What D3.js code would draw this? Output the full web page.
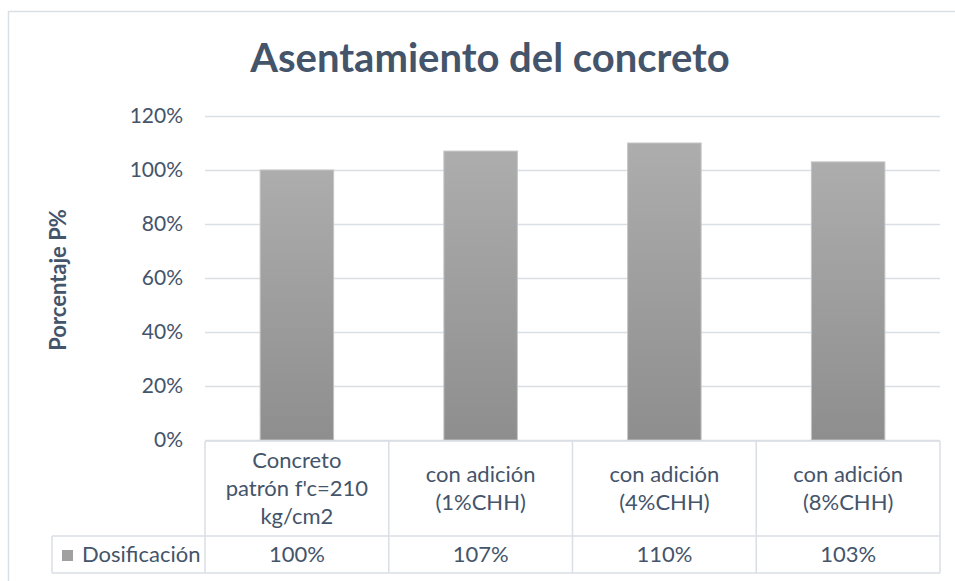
<!DOCTYPE html>
<html>
<head>
<meta charset="utf-8">
<script src="https://cdn.jsdelivr.net/npm/d3@7"></script>
<style>
  html, body { margin: 0; padding: 0; background: #fff; overflow: hidden; }
  svg { display: block; }
  text { font-family: Lato, "Open Sans", sans-serif; fill: #44546A; }
</style>
</head>
<body>
<svg id="chart" width="955" height="581"></svg>
<script>
// Chart content
const chartTitle = "Asentamiento del concreto";
const yAxisTitle = "Porcentaje P%";
const seriesName = "Dosificación";
const categories = ["patron", "1CHH", "4CHH", "8CHH"];
const categoryLines = [
  ["Concreto", "patrón f'c=210", "kg/cm2"],
  ["con adición", "(1%CHH)"],
  ["con adición", "(4%CHH)"],
  ["con adición", "(8%CHH)"]
];
const dosificacion = [1.00, 1.07, 1.10, 1.03];
const yTicks = [0, 0.2, 0.4, 0.6, 0.8, 1.0, 1.2];

const lineColor = "#dadfe6";
const svg = d3.select("#chart");

// Outer chart frame (right and bottom edges run past the visible area)
svg.append("rect")
  .attr("x", 8.5).attr("y", 11.5)
  .attr("width", 1000).attr("height", 650)
  .attr("fill", "none").attr("stroke", lineColor).attr("stroke-width", 1.5);

// Scales
const x = d3.scaleBand()
  .domain(categories)
  .range([205, 940])
  .paddingInner(0.6)
  .paddingOuter(0.3);

const y = d3.scaleLinear().domain([0, 1.2]).range([440, 116]);

// Bar gradient
const defs = svg.append("defs");
const grad = defs.append("linearGradient")
  .attr("id", "barGrad").attr("x1", 0).attr("y1", 0).attr("x2", 0).attr("y2", 1);
grad.append("stop").attr("offset", "0%").attr("stop-color", "#adadad");
grad.append("stop").attr("offset", "100%").attr("stop-color", "#8e8e8e");

// Title
svg.append("text")
  .attr("x", 490).attr("y", 72)
  .attr("text-anchor", "middle")
  .style("font-size", "40px").style("font-weight", "bold")
  .text(chartTitle);

// Y axis with gridlines
const plotW = x.range()[1] - x.range()[0];
const yAxis = d3.axisLeft(y)
  .tickValues(yTicks)
  .tickFormat(d3.format(".0%"))
  .tickSize(-plotW)
  .tickPadding(22);

const gy = svg.append("g")
  .attr("transform", `translate(${x.range()[0]},0)`)
  .call(yAxis);
gy.select(".domain").remove();
gy.selectAll(".tick line").attr("stroke", lineColor).attr("stroke-width", 1.5);
gy.selectAll(".tick text")
  .style("font-size", "21px").style("fill", "#44546A")
  .style("font-family", "Lato, 'Open Sans', sans-serif");

// Y axis title
svg.append("text")
  .attr("transform", `translate(66,${(y(0) + y(1.2)) / 2 + 2}) rotate(-90)`)
  .attr("text-anchor", "middle")
  .style("font-size", "22px").style("font-weight", "bold")
  .text(yAxisTitle);

// Bars
svg.append("g").selectAll("rect")
  .data(dosificacion)
  .join("rect")
  .attr("x", (d, i) => x(categories[i]))
  .attr("y", d => y(d))
  .attr("width", x.bandwidth())
  .attr("height", d => y(0) - y(d))
  .attr("fill", "url(#barGrad)")
  .attr("stroke", "#c4c4c4")
  .attr("stroke-width", 1);

// Data table beneath the plot
const tableTop = 441, rowDiv = 536, tableBottom = 573, legendLeft = 52;
const step = x.step();
const x0 = x.range()[0];
const tbl = svg.append("g")
  .attr("stroke", lineColor).attr("stroke-width", 1.5).attr("fill", "none");

tbl.append("line").attr("x1", x0).attr("x2", x.range()[1]).attr("y1", tableTop).attr("y2", tableTop);
tbl.append("line").attr("x1", legendLeft).attr("x2", x.range()[1]).attr("y1", rowDiv).attr("y2", rowDiv);
tbl.append("line").attr("x1", legendLeft).attr("x2", x.range()[1]).attr("y1", tableBottom).attr("y2", tableBottom);
tbl.append("line").attr("x1", legendLeft).attr("x2", legendLeft).attr("y1", rowDiv).attr("y2", tableBottom);
d3.range(categories.length + 1).forEach(i => {
  tbl.append("line")
    .attr("x1", x0 + i * step).attr("x2", x0 + i * step)
    .attr("y1", tableTop).attr("y2", tableBottom);
});

// Category labels (multi-line, centered in each cell)
const lineH = 28;
const catMid = (tableTop + rowDiv) / 2;
categoryLines.forEach((lines, i) => {
  const cx = x0 + (i + 0.5) * step;
  const t = svg.append("text")
    .attr("text-anchor", "middle")
    .style("font-size", "22px");
  lines.forEach((ln, j) => {
    t.append("tspan")
      .attr("x", cx)
      .attr("y", catMid + (j - (lines.length - 1) / 2) * lineH)
      .attr("dy", "0.35em")
      .text(ln);
  });
});

// Value row
const valMid = (rowDiv + tableBottom) / 2;
svg.append("g").selectAll("text")
  .data(dosificacion)
  .join("text")
  .attr("x", (d, i) => x0 + (i + 0.5) * step)
  .attr("y", valMid)
  .attr("dy", "0.35em")
  .attr("text-anchor", "middle")
  .style("font-size", "22px")
  .text(d => d3.format(".0%")(d));

// Legend key and series name
svg.append("rect")
  .attr("x", 62).attr("y", 550).attr("width", 11).attr("height", 11)
  .attr("fill", "#a0a0a0");
svg.append("text")
  .attr("x", 82).attr("y", valMid).attr("dy", "0.35em")
  .style("font-size", "22px")
  .text(seriesName);
</script>
</body>
</html>
